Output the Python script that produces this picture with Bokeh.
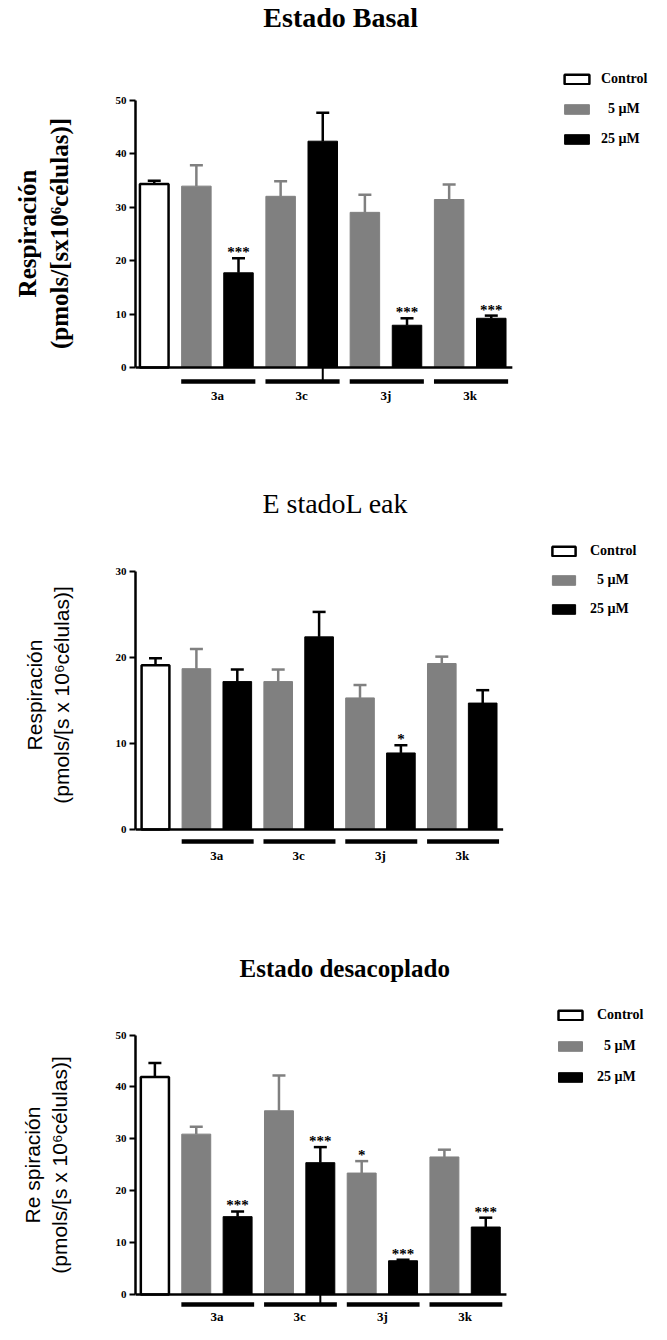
from bokeh.plotting import figure
from bokeh.layouts import column
from bokeh.models import (ColumnDataSource, Range1d, Whisker, TeeHead, Label,
                          Legend, LegendItem, FixedTicker)
from bokeh.core.properties import value
from bokeh.embed import file_html
from bokeh.resources import INLINE

# ---------------- data ----------------
compounds = ["3a", "3c", "3j", "3k"]
legend_labels = ["Control", "\u20075 µM", "25 µM"]

# Estado Basal
basal_control = 34.3
basal_control_sem = 0.6
basal_5 = [33.9, 32.0, 29.0, 31.4]
basal_5_sem = [3.9, 2.8, 3.3, 2.8]
basal_25 = [17.7, 42.3, 7.9, 9.2]
basal_25_sem = [2.7, 5.3, 1.3, 0.5]
basal_5_sig = ["", "", "", ""]
basal_25_sig = ["***", "", "***", "***"]
basal_ticks = [0, 10, 20, 30, 40, 50]

# Estado Leak
leak_control = 19.1
leak_control_sem = 0.8
leak_5 = [18.7, 17.2, 15.3, 19.3]
leak_5_sem = [2.3, 1.4, 1.5, 0.8]
leak_25 = [17.2, 22.4, 8.9, 14.7]
leak_25_sem = [1.4, 2.9, 0.9, 1.5]
leak_5_sig = ["", "", "", ""]
leak_25_sig = ["", "", "*", ""]
leak_ticks = [0, 10, 20, 30]

# Estado desacoplado
desac_control = 41.9
desac_control_sem = 2.7
desac_5 = [30.9, 35.4, 23.4, 26.5]
desac_5_sem = [1.4, 6.8, 2.3, 1.4]
desac_25 = [15.0, 25.4, 6.5, 13.0]
desac_25_sem = [1.0, 3.0, 0.2, 1.8]
desac_5_sig = ["", "", "*", ""]
desac_25_sig = ["***", "***", "***", "***"]
desac_ticks = [0, 10, 20, 30, 40, 50]

GRAY = "#808080"
SERIF = "Liberation Serif"
SANS = "Liberation Sans"
W = 651


def make_panel(title, TT, ylabel, yl,
               ctrl, ctrl_sem, v5, v5_sem, v25, v25_sem, sig5, sig25, ticks,
               L, show_tick):
    H = L["bot"] - L["top"]
    mbl = L["axis_x"] - 8
    mbt = L["ftop"] - L["top"]
    x0 = -(L["ctrl_x"] - L["axis_x"]) / L["sp"]
    x1 = x0 + (W - mbl) / L["sp"]
    ytop = (L["y0"] - L["ftop"]) / L["ppu"]
    ybot = -(L["bot"] - L["y0"]) / L["ppu"]

    def xd(px):
        return x0 + (px - L["axis_x"]) / L["sp"]

    def yd(py):
        return (L["y0"] - py) / L["ppu"]

    p = figure(width=W, height=H, x_range=Range1d(x0, x1), y_range=Range1d(ybot, ytop),
               x_axis_location=None, y_axis_location="left",
               toolbar_location=None, output_backend="svg",
               min_border_left=mbl, min_border_right=0, min_border_top=mbt, min_border_bottom=0)
    p.outline_line_color = None
    p.grid.visible = False
    p.background_fill_color = "white"
    p.border_fill_color = "white"

    n = 1 + 2 * len(compounds)
    xs5 = [1 + 2 * i for i in range(len(compounds))]
    xs25 = [2 + 2 * i for i in range(len(compounds))]

    src_c = ColumnDataSource(dict(x=[0], top=[ctrl], upper=[ctrl + ctrl_sem]))
    src5 = ColumnDataSource(dict(x=xs5, top=v5, upper=[a + b for a, b in zip(v5, v5_sem)], sig=sig5))
    src25 = ColumnDataSource(dict(x=xs25, top=v25, upper=[a + b for a, b in zip(v25, v25_sem)], sig=sig25))

    for src, col in [(src_c, "black"), (src5, GRAY), (src25, "black")]:
        w = Whisker(source=src, base="x", upper="upper", lower="top",
                    line_color=col, line_width=2.5,
                    upper_head=TeeHead(size=13, line_color=col, line_width=2.5),
                    lower_head=None)
        p.add_layout(w)

    r_c = p.vbar(x="x", top="top", bottom=0, width=0.68, source=src_c,
                 fill_color="white", line_color="black", line_width=2.5)
    r5 = p.vbar(x="x", top="top", bottom=0, width=0.7, source=src5,
                fill_color=GRAY, line_color=GRAY, line_width=1)
    r25 = p.vbar(x="x", top="top", bottom=0, width=0.7, source=src25,
                 fill_color="black", line_color="black", line_width=1)

    for src in (src5, src25):
        p.text(x="x", y="upper", text="sig", source=src, text_align="center",
               text_baseline="bottom", y_offset=2, text_font=value(SERIF),
               text_font_style="bold", text_font_size="15px", text_color="black")

    # x baseline
    p.segment(x0=[x0], y0=[0], x1=[n - 0.5], y1=[0], line_color="black", line_width=2.5)

    # group bars under the axis
    gy = yd(L["y0"] + L["line_off"])
    p.segment(x0=[a - 0.36 for a in xs5], y0=[gy] * len(xs5),
              x1=[b + 0.4 for b in xs25], y1=[gy] * len(xs25),
              line_color="black", line_width=4.5)
    if show_tick:
        p.segment(x0=[xs25[1]], y0=[0], x1=[xs25[1]], y1=[gy], line_color="black", line_width=2)
    ly = yd(L["y0"] + L["lab_off"])
    p.text(x=[(a + b) / 2 for a, b in zip(xs5, xs25)], y=[ly] * len(xs5), text=compounds,
           text_align="center", text_baseline=L["lab_base"], text_font=value(SERIF),
           text_font_style="bold", text_font_size="13px", text_color="black")

    # y axis
    ax = p.yaxis[0]
    ax.bounds = (0, ticks[-1])
    ax.ticker = FixedTicker(ticks=ticks)
    ax.axis_line_width = 2.5
    ax.axis_line_color = "black"
    ax.major_tick_line_width = 2
    ax.major_tick_out = 6
    ax.major_tick_in = 0
    ax.minor_tick_out = 0
    ax.minor_tick_in = 0
    ax.major_label_text_font = SERIF
    ax.major_label_text_font_style = "bold"
    ax.major_label_text_font_size = "11px"
    ax.major_label_text_color = "black"
    ax.major_label_standoff = 3
    ax.axis_label = ylabel
    ax.axis_label_text_font = yl["font"]
    ax.axis_label_text_font_style = yl["style"]
    ax.axis_label_text_font_size = yl["size"]
    ax.axis_label_text_line_height = yl["lh"]
    ax.axis_label_text_color = "black"
    ax.axis_label_standoff = yl["standoff"]

    # title
    if TT["outside"]:
        p.title.text = title
        p.title.align = "left"
        p.title.offset = TT["offset"]
        p.title.standoff = TT["standoff"]
        p.title.text_font = SERIF
        p.title.text_font_style = TT["style"]
        p.title.text_font_size = TT["size"]
        p.title.text_color = "black"
    else:
        p.add_layout(Label(x=xd(TT["pos"][0]), y=yd(TT["pos"][1]), text=title,
                           text_align="center", text_baseline="middle", text_font=SERIF,
                           text_font_style=TT["style"], text_font_size=TT["size"],
                           text_color="black"))

    # legend
    item_h = 20
    spacing = L["lg_pitch"] - item_h
    leg_h = 3 * item_h + 2 * spacing
    leg_top = L["lg_y"] - item_h / 2
    vx = L["lg_x"] - L["axis_x"]
    vy = L["bot"] - leg_top - leg_h
    leg = Legend(items=[LegendItem(label=legend_labels[0], renderers=[r_c]),
                        LegendItem(label=legend_labels[1], renderers=[r5]),
                        LegendItem(label=legend_labels[2], renderers=[r25])],
                 location=(vx, vy), glyph_width=L["lg_w"], glyph_height=12,
                 label_height=item_h, spacing=spacing, padding=0, margin=0,
                 border_line_color=None, background_fill_alpha=0, label_standoff=L["lg_so"],
                 label_text_font=SERIF, label_text_font_style="bold",
                 label_text_font_size="14px", label_text_color="black")
    p.add_layout(leg)
    return p


# layout: frames centred on each y axis so that the axis title is centred too
L1 = dict(top=8, ftop=8, bot=474, axis_x=136, ctrl_x=155, sp=42.7, y0=375, ppu=5.35,
          line_off=14, lab_off=28, lab_base="middle", lg_x=562, lg_y=87, lg_pitch=30, lg_w=31, lg_so=9)
L2 = dict(top=474, ftop=474, bot=931, axis_x=143, ctrl_x=163, sp=40.9, y0=837, ppu=8.6,
          line_off=12, lab_off=26, lab_base="middle", lg_x=557, lg_y=559, lg_pitch=29, lg_w=29, lg_so=12)
L3 = dict(top=931, ftop=1013, bot=1332, axis_x=140, ctrl_x=159.5, sp=41.6, y0=1302, ppu=5.19,
          line_off=10, lab_off=14, lab_base="top", lg_x=560, lg_y=1023, lg_pitch=31, lg_w=30, lg_so=12)

T1 = dict(outside=False, pos=(344, 25), style="bold", size="28px")
T2 = dict(outside=False, pos=(343, 511), style="normal", size="28px")
T3 = dict(outside=True, offset=104, standoff=47, style="bold", size="25px")

YL1 = dict(font=SERIF, style="bold", size="25px", lh=1.15, standoff=40)
YL2 = dict(font=SANS, style="normal", size="21px", lh=1.15, standoff=40)
YL3 = dict(font=SANS, style="normal", size="21px", lh=1.15, standoff=42)

p1 = make_panel("Estado Basal", T1,
                "Respiración\n(pmols/[sx10\u2076células)]", YL1,
                basal_control, basal_control_sem, basal_5, basal_5_sem, basal_25, basal_25_sem,
                basal_5_sig, basal_25_sig, basal_ticks, L1, True)
p2 = make_panel("E stadoL eak", T2,
                "Respiración\n(pmols/[s x 10\u2076células)]", YL2,
                leak_control, leak_control_sem, leak_5, leak_5_sem, leak_25, leak_25_sem,
                leak_5_sig, leak_25_sig, leak_ticks, L2, False)
p3 = make_panel("Estado desacoplado", T3,
                "Re spiración\n(pmols/[s x 10\u2076células)]", YL3,
                desac_control, desac_control_sem, desac_5, desac_5_sem, desac_25, desac_25_sem,
                desac_5_sig, desac_25_sig, desac_ticks, L3, True)

layout = column(p1, p2, p3, spacing=0)
open("out.html", "w").write(file_html(layout, INLINE))
